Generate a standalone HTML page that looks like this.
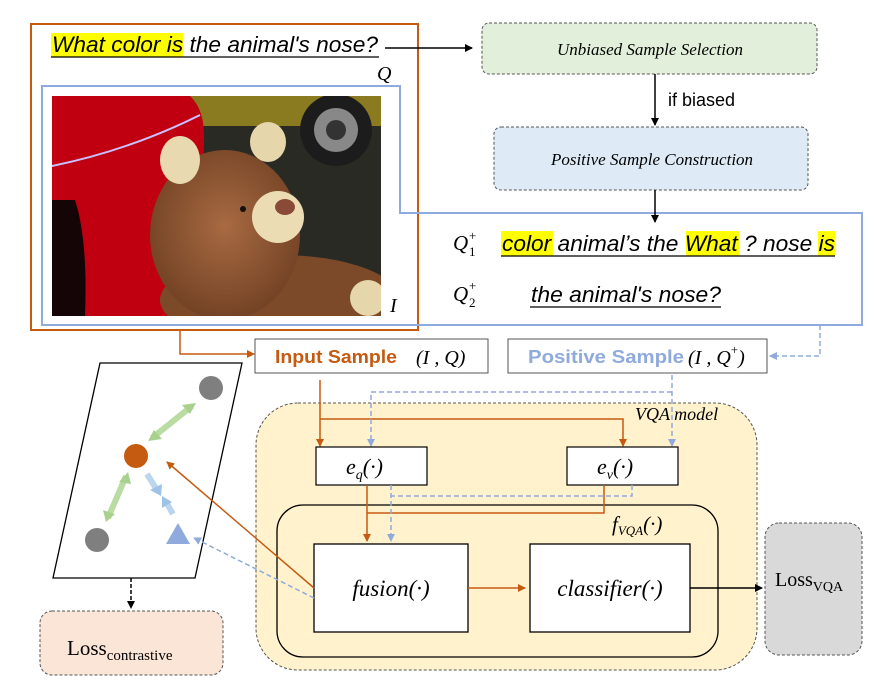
<!DOCTYPE html>
<html><head><meta charset="utf-8"><style>
html,body{margin:0;padding:0;background:#fff;}
svg{display:block;}
.it{font-family:"Liberation Serif",serif;font-style:italic;}
.sa{font-family:"Liberation Sans",sans-serif;}
</style></head><body>
<svg width="889" height="700" viewBox="0 0 889 700" xmlns="http://www.w3.org/2000/svg">
<defs>
<marker id="ak" markerWidth="8" markerHeight="8" refX="7" refY="4" orient="auto" markerUnits="userSpaceOnUse"><path d="M0,0 L8,4 L0,8 z" fill="#000"/></marker>
<marker id="ao" markerWidth="8" markerHeight="8" refX="7" refY="4" orient="auto" markerUnits="userSpaceOnUse"><path d="M0,0 L8,4 L0,8 z" fill="#c55a11"/></marker>
<marker id="ab" markerWidth="8" markerHeight="8" refX="7" refY="4" orient="auto" markerUnits="userSpaceOnUse"><path d="M0,0 L8,4 L0,8 z" fill="#8faadc"/></marker>
<radialGradient id="bear" cx="0.5" cy="0.45" r="0.6"><stop offset="0" stop-color="#a86a42"/><stop offset="1" stop-color="#6e3f22"/></radialGradient>
<clipPath id="photo"><rect x="52" y="96" width="329" height="220"/></clipPath>
</defs>

<!-- photo -->
<g clip-path="url(#photo)">
<rect x="52" y="96" width="329" height="220" fill="#2a2a24"/>
<rect x="150" y="96" width="231" height="30" fill="#8a7a20"/>
<circle cx="336" cy="130" r="36" fill="#1c1c1c"/>
<circle cx="336" cy="130" r="22" fill="#888"/>
<circle cx="336" cy="130" r="10" fill="#333"/>
<path d="M52,96 L190,96 Q205,110 204,140 L200,316 L52,316 z" fill="#c00010"/>
<path d="M52,200 L75,200 Q88,240 85,316 L52,316z" fill="#150506"/>
<path d="M52,166 Q130,150 200,115" stroke="#c9c0ff" stroke-width="2" fill="none"/>
<ellipse cx="280" cy="300" rx="120" ry="45" fill="#7d4a29"/>
<ellipse cx="225" cy="235" rx="75" ry="85" fill="url(#bear)"/>
<ellipse cx="180" cy="160" rx="20" ry="24" fill="#e8d9b0"/>
<ellipse cx="268" cy="142" rx="18" ry="20" fill="#e6d6ab"/>
<ellipse cx="278" cy="217" rx="26" ry="26" fill="#ecdcb4"/>
<ellipse cx="285" cy="207" rx="10" ry="8" fill="#8a4a38"/>
<circle cx="243" cy="209" r="3" fill="#111"/>
<ellipse cx="368" cy="298" rx="18" ry="18" fill="#e6d6ab"/>
</g>

<!-- orange and blue frames -->
<rect x="31" y="24" width="387" height="306" fill="none" stroke="#c55a11" stroke-width="2"/>
<path d="M42,86 L400,86 L400,213 L862,213 L862,325 L42,325 z" fill="none" stroke="#8faadc" stroke-width="2"/>

<!-- question -->
<rect x="51" y="33" width="132" height="24" fill="#ffff00"/>
<text x="52" y="52" class="sa" font-style="italic" font-size="22" fill="#000" textLength="326" lengthAdjust="spacingAndGlyphs">What color is the animal's nose?</text>
<line x1="51" y1="57" x2="379" y2="57" stroke="#000" stroke-width="1.2"/>
<text x="377" y="80" class="it" font-size="20">Q</text>
<text x="390" y="312" class="it" font-size="20">I</text>
<line x1="385" y1="48" x2="472" y2="48" stroke="#000" stroke-width="1.5" marker-end="url(#ak)"/>

<!-- top right boxes -->
<rect x="482" y="23" width="335" height="51" rx="7" fill="#e2efda" stroke="#555" stroke-width="1" stroke-dasharray="3,2"/>
<text x="650" y="55" class="it" font-size="17" text-anchor="middle">Unbiased Sample Selection</text>
<line x1="655" y1="74" x2="655" y2="125" stroke="#000" stroke-width="1.5" marker-end="url(#ak)"/>
<text x="668" y="106" class="sa" font-size="18">if biased</text>
<rect x="494" y="127" width="314" height="63" rx="7" fill="#deebf7" stroke="#555" stroke-width="1" stroke-dasharray="3,2"/>
<text x="652" y="165" class="it" font-size="17" text-anchor="middle">Positive Sample Construction</text>
<line x1="655" y1="190" x2="655" y2="222" stroke="#000" stroke-width="1.5" marker-end="url(#ak)"/>

<!-- Q+ lines -->
<text x="453" y="250" class="it" font-size="21">Q</text><text x="469" y="240" font-family="Liberation Serif" font-size="13">+</text><text x="469" y="256" font-family="Liberation Serif" font-size="13">1</text>
<rect x="501" y="231" width="52" height="25" fill="#ffff00"/>
<rect x="686" y="231" width="53" height="25" fill="#ffff00"/>
<rect x="818" y="231" width="17" height="25" fill="#ffff00"/>
<text x="502" y="251" class="sa" font-style="italic" font-size="22" textLength="333" lengthAdjust="spacingAndGlyphs">color animal’s the What ? nose is</text>
<line x1="501" y1="256" x2="835" y2="256" stroke="#000" stroke-width="1.2"/>
<text x="453" y="301" class="it" font-size="21">Q</text><text x="469" y="290" font-family="Liberation Serif" font-size="13">+</text><text x="469" y="307" font-family="Liberation Serif" font-size="13">2</text>
<text x="531" y="302" class="sa" font-style="italic" font-size="22" textLength="190" lengthAdjust="spacingAndGlyphs">the animal's nose?</text>
<line x1="530" y1="307" x2="721" y2="307" stroke="#000" stroke-width="1.2"/>

<!-- sample boxes -->
<polyline points="180,330 180,354 254,354" fill="none" stroke="#c55a11" stroke-width="1.5" marker-end="url(#ao)"/>
<rect x="255" y="339" width="233" height="34" fill="#fff" stroke="#555" stroke-width="1"/>
<text x="275" y="363" class="sa" font-weight="bold" font-size="18" fill="#c55a11" textLength="122" lengthAdjust="spacingAndGlyphs">Input Sample</text>
<text x="416" y="364" class="it" font-size="20">(I , Q)</text>
<polyline points="820,325 820,356 770,356" fill="none" stroke="#8faadc" stroke-width="1.5" stroke-dasharray="5,3" marker-end="url(#ab)"/>
<rect x="508" y="339" width="259" height="34" fill="#fff" stroke="#555" stroke-width="1"/>
<text x="528" y="363" class="sa" font-weight="bold" font-size="18" fill="#8faadc" textLength="156" lengthAdjust="spacingAndGlyphs">Positive Sample</text>
<text x="688" y="364" class="it" font-size="20">(I , Q<tspan dy="-10" font-size="13" font-style="normal">+</tspan><tspan dy="10">)</tspan></text>

<!-- VQA model -->
<rect x="256" y="403" width="501" height="267" rx="42" fill="#fff2cc" stroke="#555" stroke-width="1" stroke-dasharray="3,2"/>
<text x="635" y="420" class="it" font-size="18">VQA model</text>
<rect x="277" y="505" width="441" height="152" rx="26" fill="none" stroke="#000" stroke-width="1.3"/>
<text x="612" y="531" class="it" font-size="21">f<tspan dy="4" font-size="13">VQA</tspan><tspan dy="-4">(·)</tspan></text>

<!-- connectors in model -->
<line x1="320" y1="380" x2="320" y2="446" stroke="#c55a11" stroke-width="1.5" marker-end="url(#ao)"/>
<polyline points="320,419 623,419 623,446" fill="none" stroke="#c55a11" stroke-width="1.5" marker-end="url(#ao)"/>
<line x1="672" y1="375" x2="672" y2="446" stroke="#8faadc" stroke-width="1.5" stroke-dasharray="5,3" marker-end="url(#ab)"/>
<polyline points="672,392 371,392 371,446" fill="none" stroke="#8faadc" stroke-width="1.5" stroke-dasharray="5,3" marker-end="url(#ab)"/>

<rect x="316" y="447" width="111" height="38" fill="#fff" stroke="#000" stroke-width="1.2"/>
<text x="346" y="474" class="it" font-size="22">e<tspan dy="5" font-size="14">q</tspan><tspan dy="-5">(·)</tspan></text>
<rect x="567" y="447" width="111" height="38" fill="#fff" stroke="#000" stroke-width="1.2"/>
<text x="597" y="474" class="it" font-size="22">e<tspan dy="5" font-size="14">v</tspan><tspan dy="-5">(·)</tspan></text>

<line x1="367" y1="485" x2="367" y2="541" stroke="#c55a11" stroke-width="1.5" marker-end="url(#ao)"/>
<polyline points="604,485 604,513 367,513" fill="none" stroke="#c55a11" stroke-width="1.5"/>
<line x1="391" y1="485" x2="391" y2="541" stroke="#8faadc" stroke-width="1.5" stroke-dasharray="5,3" marker-end="url(#ab)"/>
<polyline points="632,485 632,496 391,496" fill="none" stroke="#8faadc" stroke-width="1.5" stroke-dasharray="5,3"/>

<rect x="314" y="544" width="154" height="88" fill="#fff" stroke="#000" stroke-width="1.3"/>
<text x="391" y="596" class="it" font-size="23" text-anchor="middle">fusion(·)</text>
<rect x="530" y="544" width="160" height="88" fill="#fff" stroke="#000" stroke-width="1.3"/>
<text x="610" y="596" class="it" font-size="23" text-anchor="middle">classifier(·)</text>
<line x1="468" y1="588" x2="525" y2="588" stroke="#c55a11" stroke-width="1.5" marker-end="url(#ao)"/>
<line x1="690" y1="588" x2="762" y2="588" stroke="#000" stroke-width="1.5" marker-end="url(#ak)"/>

<rect x="765" y="523" width="97" height="132" rx="14" fill="#d9d9d9" stroke="#555" stroke-width="1" stroke-dasharray="3,2"/>
<text x="775" y="586" font-family="Liberation Serif" font-size="20">Loss<tspan dy="5" font-size="14">VQA</tspan></text>

<!-- parallelogram -->
<polygon points="100,363 242,363 195,578 53,578" fill="#fff" stroke="#000" stroke-width="1.3"/>
<line x1="131" y1="578" x2="131" y2="608" stroke="#000" stroke-width="1.5" stroke-dasharray="4,2" marker-end="url(#ak)"/>
<rect x="40" y="611" width="183" height="64" rx="12" fill="#fbe5d6" stroke="#555" stroke-width="1" stroke-dasharray="3,2"/>
<text x="67" y="655" font-family="Liberation Serif" font-size="21">Loss<tspan dy="5" font-size="15">contrastive</tspan></text>

<!-- arrows inside -->
<g stroke-linecap="butt">
<line x1="152" y1="438" x2="192" y2="406" stroke="#b9dca2" stroke-width="6"/>
<path d="M196,403 L182,405 L190,414z M148,441 L162,439 L154,430z" fill="#a9d18e"/>
<line x1="108" y1="518" x2="126" y2="476" stroke="#b9dca2" stroke-width="6"/>
<path d="M128,472 L119,482 L131,484z M106,522 L103,510 L115,514z" fill="#a9d18e"/>
<line x1="147" y1="474" x2="157" y2="490" stroke="#bcd6ef" stroke-width="6"/>
<path d="M161,496 L150,490 L162,484z" fill="#9dc3e6"/>
<line x1="173" y1="514" x2="166" y2="502" stroke="#bcd6ef" stroke-width="6"/>
<path d="M162,496 L162,508 L172,502z" fill="#9dc3e6"/>
</g>
<circle cx="211" cy="388" r="12" fill="#7f7f7f"/>
<circle cx="97" cy="540" r="12" fill="#7f7f7f"/>
<circle cx="136" cy="456" r="12" fill="#c55a11"/>
<polygon points="166,544 190,544 178,523" fill="#8faadc"/>

<line x1="314" y1="588" x2="167" y2="462" stroke="#c55a11" stroke-width="1.5" marker-end="url(#ao)"/>
<line x1="314" y1="598" x2="194" y2="538" stroke="#8faadc" stroke-width="1.5" stroke-dasharray="5,3" marker-end="url(#ab)"/>
</svg>
</body></html>
